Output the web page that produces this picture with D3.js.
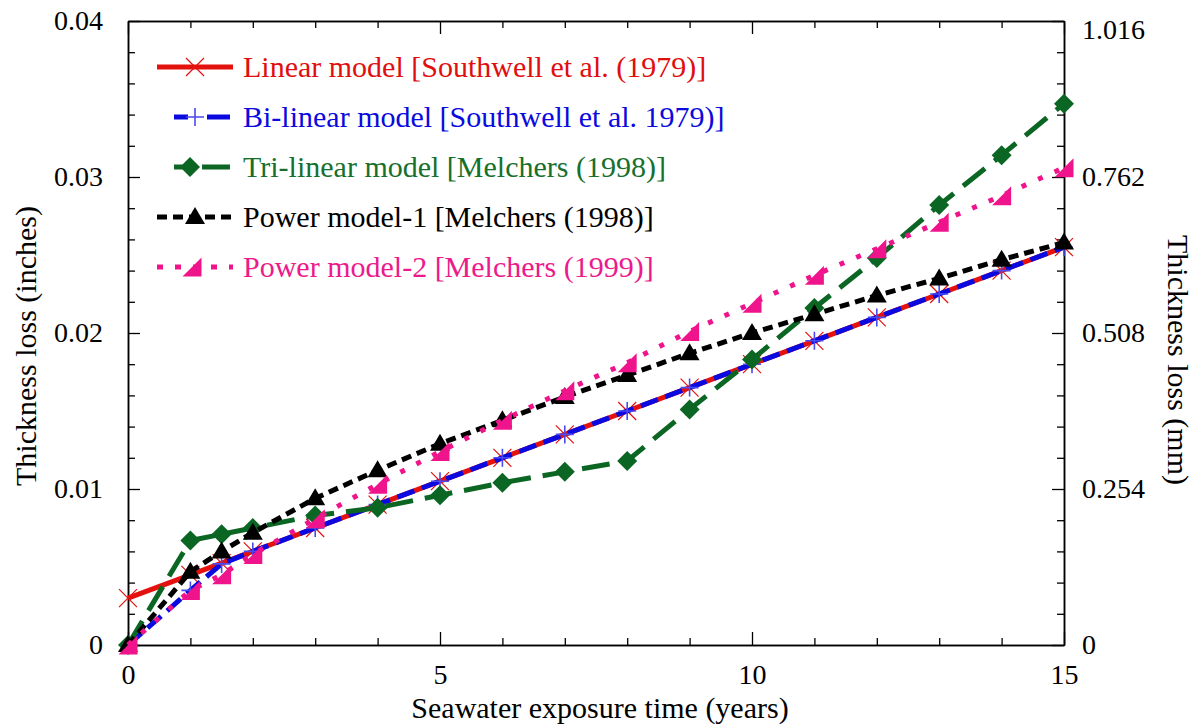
<!DOCTYPE html>
<html>
<head>
<meta charset="utf-8">
<script src="https://cdn.jsdelivr.net/npm/d3@7/dist/d3.min.js"></script>
<style>
  html, body { margin: 0; padding: 0; background: #fff; }
  svg { display: block; }
  text { font-family: "Liberation Serif", "Times New Roman", serif; }
</style>
</head>
<body>
<svg id="chart" width="1195" height="727"></svg>
<script>
// ---------- data ----------
const years = [0, 1, 1.5, 2, 3, 4, 5, 6, 7, 8, 9, 10, 11, 12, 13, 14, 15];
const linearModel   = [0.003, 0.0045, 0.00525, 0.006, 0.0075, 0.009, 0.0105, 0.012, 0.0135, 0.015, 0.0165, 0.018, 0.0195, 0.021, 0.0225, 0.024, 0.0255];
const bilinearModel = [0, 0.0035, 0.0052, 0.006, 0.0075, 0.009, 0.0105, 0.012, 0.0135, 0.015, 0.0165, 0.018, 0.0195, 0.021, 0.0225, 0.024, 0.0255];
const trilinearModel = [0, 0.0067, 0.0071, 0.0075, 0.0083, 0.0088, 0.0096, 0.0104, 0.0111, 0.0118, 0.0151, 0.0183, 0.0216, 0.0248, 0.0282, 0.0314, 0.0347];
const powerModel1   = [0, 0.0047, 0.0060, 0.0072, 0.0094, 0.0112, 0.0129, 0.0144, 0.0159, 0.0173, 0.0187, 0.0200, 0.0212, 0.0224, 0.0235, 0.0247, 0.0258];
const powerModel2   = [0, 0.0035, 0.0045, 0.0058, 0.0081, 0.0103, 0.0124, 0.0144, 0.0163, 0.0181, 0.0201, 0.0219, 0.0237, 0.0254, 0.0271, 0.0288, 0.0306];

const seriesNames = [
  "Linear model [Southwell et al. (1979)]",
  "Bi-linear model [Southwell et al. 1979)]",
  "Tri-linear model [Melchers (1998)]",
  "Power model-1 [Melchers (1998)]",
  "Power model-2 [Melchers (1999)]"
];

const xMajorTicks = [0, 5, 10, 15];
const xMinorTicks = [1, 2, 3, 4, 6, 7, 8, 9, 11, 12, 13, 14];
const yMajorTicks = [0, 0.01, 0.02, 0.03, 0.04];
const yTickLabels = ["0", "0.01", "0.02", "0.03", "0.04"];
const yMinorTicks = [0.002, 0.004, 0.006, 0.008, 0.012, 0.014, 0.016, 0.018, 0.022, 0.024, 0.026, 0.028, 0.032, 0.034, 0.036, 0.038];
const y2MajorTicks = [0, 0.254, 0.508, 0.762, 1.016];
const y2TickLabels = ["0", "0.254", "0.508", "0.762", "1.016"];

const xTitle = "Seawater exposure time (years)";
const yTitle = "Thickness loss (inches)";
const y2Title = "Thickness loss (mm)";

// ---------- styles ----------
const styles = [
  { color: "#e4120f", text: "#e00e0e", dash: null,    lw: 5, marker: "x",       legDash: null,        l0: 157, l1: 233, m: 195 },
  { color: "#0a0ae0", text: "#0a0ae0", dash: "18,8",  lw: 5, marker: "plus",    legDash: "14,19,30",  l0: 174, l1: 230, m: 195 },
  { color: "#0b6623", text: "#16702c", dash: "28,12", lw: 5, marker: "diamond", legDash: "13,15,30",  l0: 174, l1: 230, m: 190 },
  { color: "#000000", text: "#000000", dash: "10,6",  lw: 5, marker: "tri",     legDash: "10,6",      l0: 157, l1: 233, m: 195 },
  { color: "#f0148c", text: "#ec1a8c", dash: "5,13",  lw: 5, marker: "rtri",    legDash: "6,12",      l0: 157, l1: 233, m: 192 }
];

const svg = d3.select("#chart");
const x = d3.scaleLinear().domain([0, 15]).range([128, 1064]);
const y = d3.scaleLinear().domain([0, 0.04]).range([645, 21]);
const y2 = d3.scaleLinear().domain([0, 1.016]).range([645, 21]);

const seriesValues = [linearModel, bilinearModel, trilinearModel, powerModel1, powerModel2];

// ---------- axes ----------
function styleAxis(g, fs) {
  g.selectAll("path.domain").attr("stroke", "#000").attr("stroke-width", 1.5);
  g.selectAll(".tick line").attr("stroke", "#000").attr("stroke-width", 1.3);
  g.selectAll("text").attr("font-family", "Liberation Serif, Times New Roman, serif").attr("font-size", fs).attr("fill", "#000");
}

const gx = svg.append("g").attr("transform", "translate(0,645)")
  .call(d3.axisBottom(x).tickValues(xMajorTicks).tickSize(-13).tickSizeOuter(0).tickPadding(19).tickFormat(d3.format("d")));
styleAxis(gx, 28);
const gxm = svg.append("g").attr("transform", "translate(0,645)")
  .call(d3.axisBottom(x).tickValues(xMinorTicks).tickSize(-7).tickSizeOuter(0).tickFormat(""));
styleAxis(gxm, 28);
const gt = svg.append("g").attr("transform", "translate(0,21)")
  .call(d3.axisTop(x).tickValues(xMajorTicks).tickSize(-13).tickSizeOuter(0).tickFormat(""));
styleAxis(gt, 28);
const gtm = svg.append("g").attr("transform", "translate(0,21)")
  .call(d3.axisTop(x).tickValues(xMinorTicks).tickSize(-7).tickSizeOuter(0).tickFormat(""));
styleAxis(gtm, 28);

const gy = svg.append("g").attr("transform", "translate(128,0)")
  .call(d3.axisLeft(y).tickValues(yMajorTicks).tickSize(-12).tickSizeOuter(0).tickPadding(25)
    .tickFormat((d, i) => yTickLabels[i]));
styleAxis(gy, 28);
const gym = svg.append("g").attr("transform", "translate(128,0)")
  .call(d3.axisLeft(y).tickValues(yMinorTicks).tickSize(-7).tickSizeOuter(0).tickFormat(""));
styleAxis(gym, 28);

const gy2 = svg.append("g").attr("transform", "translate(1064,0)")
  .call(d3.axisRight(y2).tickValues(y2MajorTicks).tickSize(-12).tickSizeOuter(0).tickPadding(18)
    .tickFormat((d, i) => y2TickLabels[i]));
styleAxis(gy2, 28);
// top right label sits a little lower in the original
gy2.selectAll(".tick text").filter(d => d === 1.016).attr("dy", "0.62em");
const gy2m = svg.append("g").attr("transform", "translate(1064,0)")
  .call(d3.axisRight(y).tickValues(yMinorTicks).tickSize(-7).tickSizeOuter(0).tickFormat(""));
styleAxis(gy2m, 28);

// axis titles
svg.append("text").attr("x", 600).attr("y", 718).attr("text-anchor", "middle")
  .attr("font-size", 30).text(xTitle);
svg.append("text").attr("transform", "translate(36,346) rotate(-90)").attr("text-anchor", "middle")
  .attr("font-size", 30).text(yTitle);
svg.append("text").attr("transform", "translate(1168,360) rotate(90)").attr("text-anchor", "middle")
  .attr("font-size", 30).text(y2Title);

// ---------- markers ----------
function drawMarker(g, type, cx, cy, color) {
  if (type === "x") {
    const s = 9;
    g.append("path").attr("d", `M${cx - s},${cy - s}L${cx + s},${cy + s}M${cx - s},${cy + s}L${cx + s},${cy - s}`)
      .attr("stroke", color).attr("stroke-width", 1.2).attr("fill", "none");
  } else if (type === "plus") {
    const s = 9;
    g.append("path").attr("d", `M${cx},${cy - s}L${cx},${cy + s}M${cx - s},${cy}L${cx + s},${cy}`)
      .attr("stroke", "#4a4af0").attr("stroke-width", 1.6).attr("fill", "none");
  } else if (type === "diamond") {
    const s = 10;
    g.append("path").attr("d", `M${cx},${cy - s}L${cx + s},${cy}L${cx},${cy + s}L${cx - s},${cy}Z`)
      .attr("fill", color);
  } else if (type === "tri") {
    const s = 10;
    g.append("path").attr("d", `M${cx},${cy - s}L${cx + s},${cy + s * 0.7}L${cx - s},${cy + s * 0.7}Z`)
      .attr("fill", color);
  } else if (type === "rtri") {
    const s = 9.5;
    g.append("path").attr("d", `M${cx - s},${cy + s}L${cx + s},${cy + s}L${cx + s},${cy - s}Z`)
      .attr("fill", color);
  }
}

// ---------- series ----------
const line = d3.line().x(d => x(d[0])).y(d => y(d[1]));
seriesValues.forEach((vals, i) => {
  const st = styles[i];
  const pts = years.map((t, j) => [t, vals[j]]);
  const g = svg.append("g");
  g.append("path").attr("d", line(pts)).attr("fill", "none")
    .attr("stroke", st.color).attr("stroke-width", st.lw)
    .attr("stroke-dasharray", st.dash).attr("stroke-linejoin", "round");
  pts.forEach(p => drawMarker(g, st.marker, x(p[0]), y(p[1]), st.color));
});

// ---------- legend ----------
const leg = svg.append("g");
seriesNames.forEach((name, i) => {
  const st = styles[i];
  const ry = 67 + i * 50;
  leg.append("line").attr("x1", st.l0).attr("x2", st.l1).attr("y1", ry).attr("y2", ry)
    .attr("stroke", st.color).attr("stroke-width", st.lw).attr("stroke-dasharray", st.legDash);
  drawMarker(leg, st.marker, st.m, ry, st.color);
  leg.append("text").attr("x", 243).attr("y", ry + 10).attr("font-size", 30)
    .attr("fill", st.text).text(name);
});
</script>
</body>
</html>
